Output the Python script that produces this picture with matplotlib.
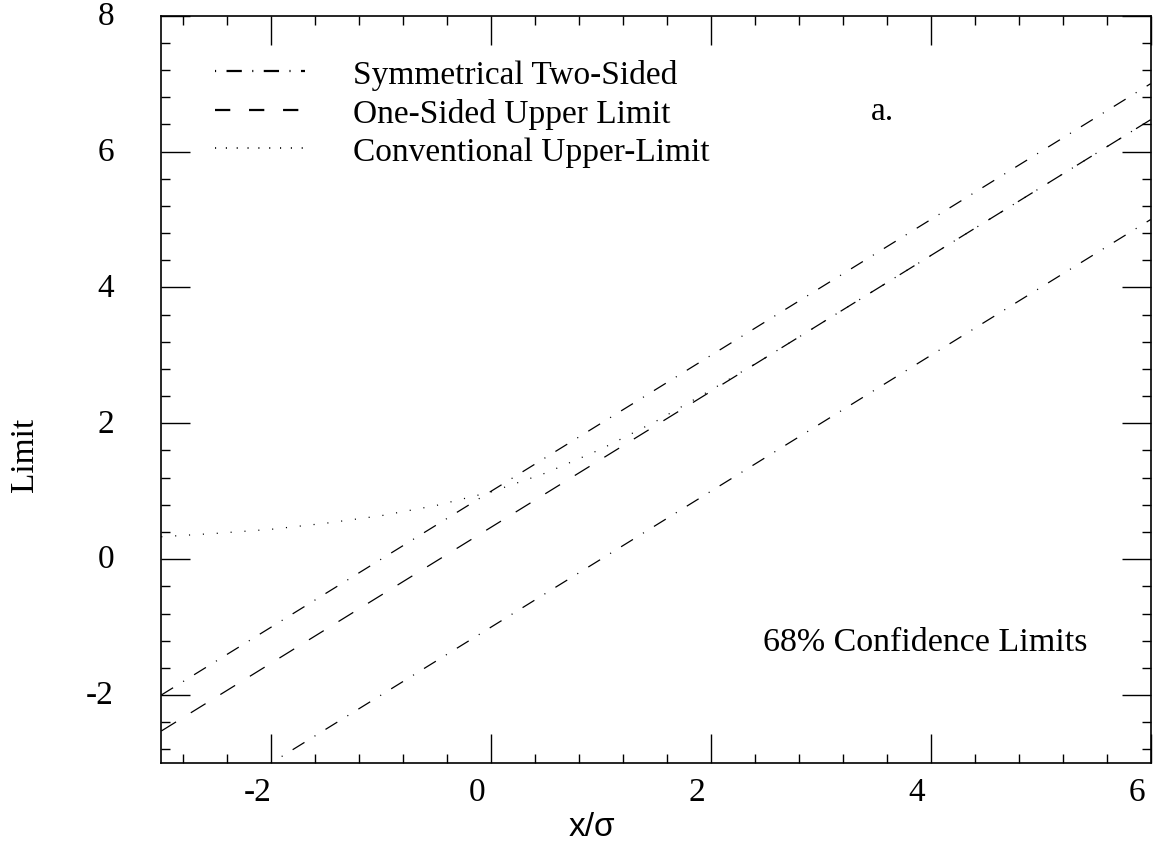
import matplotlib
matplotlib.use("Agg")
import matplotlib.pyplot as plt
from matplotlib.lines import Line2D
import matplotlib.transforms as mtransforms

plt.rcParams['lines.scale_dashes'] = False
plt.rcParams['axes.unicode_minus'] = False

# ---- data ----
x_range = [-3.0, 6.0]
sym_upper = [-2.0, 7.0]      # symmetrical two-sided, upper edge
sym_lower = [-4.0, 5.0]      # symmetrical two-sided, lower edge
one_sided = [-2.53, 6.47]    # one-sided upper limit
conv_x = [-3.0, -2.5, -2.0, -1.5, -1.0, -0.5, 0.0, 0.5, 1.0, 1.5, 2.0, 2.5, 3.0, 4.0, 5.0, 6.0]
conv_y = [0.33, 0.38, 0.44, 0.53, 0.64, 0.79, 0.99, 1.27, 1.62, 2.03, 2.49, 2.97, 3.47, 4.47, 5.47, 6.47]

x_ticks = [-2, 0, 2, 4, 6]
y_ticks = [-2, 0, 2, 4, 6, 8]
legend_labels = ["Symmetrical Two-Sided", "One-Sided Upper Limit", "Conventional Upper-Limit"]

SERIF = ["Liberation Serif", "DejaVu Serif"]
SANS = ["Liberation Sans", "DejaVu Sans"]

fig = plt.figure(figsize=(11.56, 8.45), dpi=100)
ax = fig.add_axes([0.1395, 0.0959, 0.9954 - 0.1395, 0.9802 - 0.0959])

dashdot = (0, (10, 8.5, 0.8, 8.5))
dashed = (0, (12.5, 12.5))
dotted = (0, (0.8, 9.2))
lw = 0.9

ax.plot(x_range, sym_upper, color="black", lw=lw, linestyle=dashdot)
ax.plot(x_range, sym_lower, color="black", lw=lw, linestyle=dashdot)
ax.plot(x_range, one_sided, color="black", lw=lw, linestyle=dashed)
ax.plot(conv_x, conv_y, color="black", lw=lw, linestyle=dotted)

ax.set_xlim(-3, 6)
ax.set_ylim(-3, 8)
ax.set_xticks(x_ticks)
ax.set_yticks(y_ticks)
ax.set_xticks([v / 10 for v in range(-28, 60, 4)], minor=True)
ax.set_yticks([v / 10 for v in range(-28, 80, 4)], minor=True)
ax.tick_params(which="major", direction="in", length=21, width=1.0, top=True, right=True)
ax.tick_params(which="minor", direction="in", length=6.5, width=1.0, top=True, right=True)
ax.tick_params(axis="x", which="major", pad=10, labelsize=24)
ax.tick_params(axis="y", which="major", pad=34, labelsize=24)
for sp in ax.spines.values():
    sp.set_linewidth(1.2)

for lab in ax.get_xticklabels():
    lab.set_family(SERIF)
for lab in ax.get_yticklabels():
    lab.set_family(SERIF)
    lab.set_verticalalignment("center")

shift = mtransforms.ScaledTranslation(-14 / 100, 0, fig.dpi_scale_trans)
for lab in ax.get_xticklabels():
    lab.set_transform(lab.get_transform() + shift)

fig.text(592 / 1156, 1 - 828 / 845, "x/σ", family=SANS, fontsize=24, ha="center", va="center")
fig.text(25 / 1156, 1 - 455 / 845, "Limit", family=SERIF, fontsize=24, ha="center", va="center", rotation=90)

# legend proxies
handles = [
    Line2D([], [], color="black", lw=1.6, linestyle=(0, (0.8, 7.5, 11, 7.5))),
    Line2D([], [], color="black", lw=1.6, linestyle=(0, (11, 13.5))),
    Line2D([], [], color="black", lw=1.2, linestyle=(0, (0.8, 7))),
]
leg = ax.legend(handles, legend_labels, loc="upper left", bbox_to_anchor=(0.0543, 0.9427),
                frameon=False, prop={"family": SERIF, "size": 24}, handlelength=2.7,
                handletextpad=1.45, labelspacing=0.24, borderpad=0, borderaxespad=0)

ax.text(882 / 1156, 1 - 112 / 845, "a.", transform=fig.transFigure, family=SERIF, fontsize=24,
        ha="center", va="center")
ax.text(925 / 1156, 1 - 643 / 845, "68% Confidence Limits", transform=fig.transFigure,
        family=SERIF, fontsize=24.5, ha="center", va="center")

fig.savefig("out.png", dpi=100)
